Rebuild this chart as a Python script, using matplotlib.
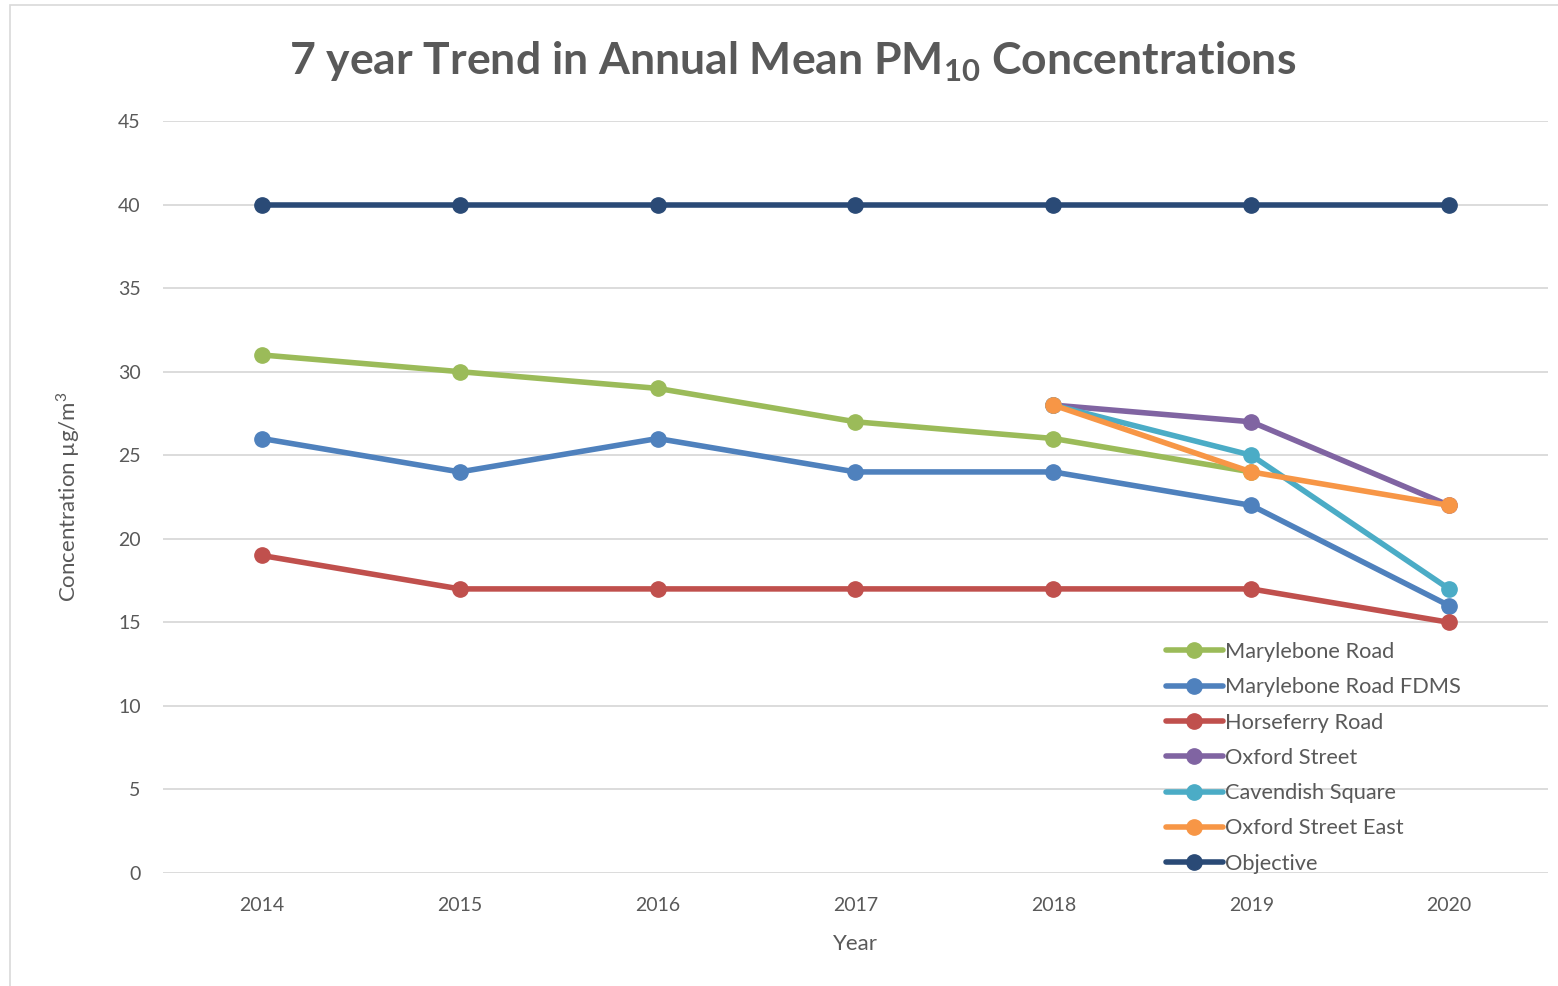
import numpy as np
import matplotlib.pyplot as plt
from matplotlib.patches import Rectangle

plt.rcParams['font.family'] = ['Lato', 'DejaVu Sans']
plt.rcParams['mathtext.fontset'] = 'custom'
plt.rcParams['mathtext.rm'] = 'Lato'
plt.rcParams['mathtext.bf'] = 'Lato:bold'

## Data
years = [2014, 2015, 2016, 2017, 2018, 2019, 2020]
marylebone = [31, 30, 29, 27, 26, 24, np.nan]
marylebone_fdms = [26, 24, 26, 24, 24, 22, 16]
horseferry = [19, 17, 17, 17, 17, 17, 15]
oxford_st = [np.nan, np.nan, np.nan, np.nan, 28, 27, 22]
cavendish = [np.nan, np.nan, np.nan, np.nan, 28, 25, 17]
oxford_east = [np.nan, np.nan, np.nan, np.nan, 28, 24, 22]
objective = [40, 40, 40, 40, 40, 40, 40]

series = [
    ("Marylebone Road", marylebone, "#9BBB59"),
    ("Marylebone Road FDMS", marylebone_fdms, "#4F81BD"),
    ("Horseferry Road", horseferry, "#C0504D"),
    ("Oxford Street", oxford_st, "#8064A2"),
    ("Cavendish Square", cavendish, "#4BACC6"),
    ("Oxford Street East", oxford_east, "#F79646"),
    ("Objective", objective, "#2A4A76"),
]

txt = "#595959"

fig = plt.figure(figsize=(15.58, 9.86), dpi=100)
fig.patches.append(Rectangle((10/1558, -0.01), 1.1, (986-5)/986 + 0.01,
                             transform=fig.transFigure, fill=False,
                             edgecolor="#D9D9D9", linewidth=1.2))
ax = fig.add_axes([163/1558, 113/986, 1385/1558, 752/986])

x = np.arange(len(years))
for name, vals, col in series:
    ax.plot(x, vals, color=col, lw=4, marker='o', ms=11, label=name,
            solid_capstyle='round')

ax.set_xlim(-0.5, len(years) - 0.5)
ax.set_ylim(0, 45)
ax.set_yticks(range(0, 46, 5))
ax.set_xticks(x)
ax.set_xticklabels([str(y) for y in years])
ax.grid(axis='y', color='#D9D9D9', lw=1.3)
ax.set_axisbelow(True)
for s in ax.spines.values():
    s.set_visible(False)
ax.tick_params(length=0, labelsize=14, colors=txt)
ax.tick_params(axis='x', pad=17)
ax.tick_params(axis='y', pad=16)

ax.set_xlabel("Year", fontsize=16, color=txt, labelpad=15)
ax.set_ylabel(r"Concentration µg/m$^3$", fontsize=16, color=txt, labelpad=26)

fig.text(793/1558, 1 - 62/986,
         r"7 year Trend in Annual Mean PM$_\mathbf{10}$ Concentrations",
         ha='center', va='center', fontsize=32, fontweight='bold', color=txt)

leg = ax.legend(loc='lower left', bbox_to_anchor=(0.71, -0.027), frameon=False,
                fontsize=15.7, handlelength=2.6, handletextpad=0.1,
                labelspacing=0.7, labelcolor=txt)

fig.savefig("out.png", dpi=100)
